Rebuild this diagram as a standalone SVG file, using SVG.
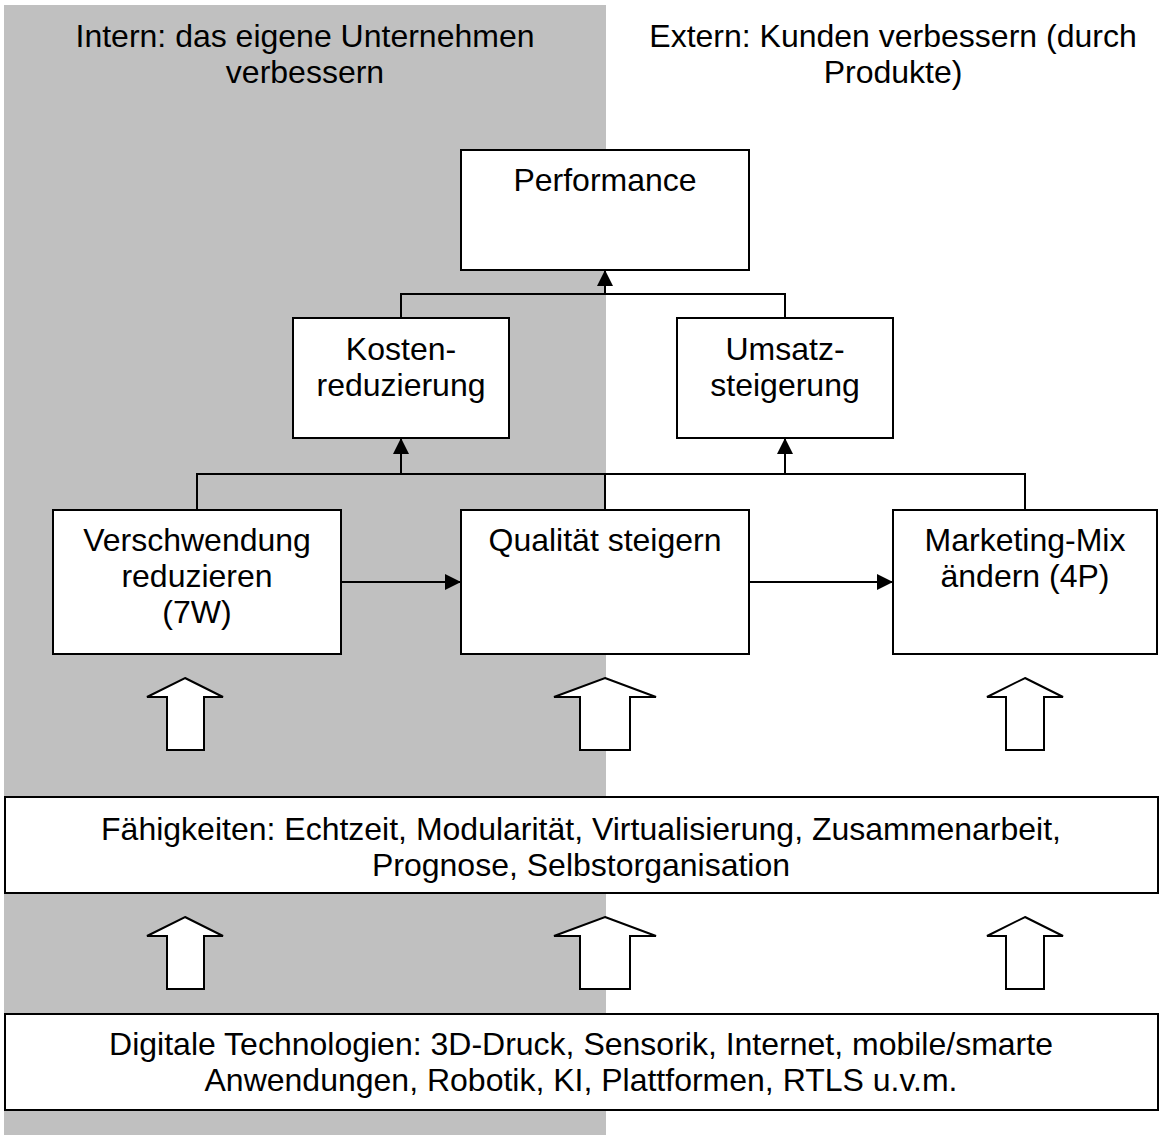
<svg xmlns="http://www.w3.org/2000/svg" width="1167" height="1140" viewBox="0 0 1167 1140">
<defs>
<style>
.box{fill:#fff;stroke:#000;stroke-width:2}
.conn{fill:none;stroke:#000;stroke-width:2}
.big{fill:#fff;stroke:#000;stroke-width:2;stroke-linejoin:miter}
text{font-family:"Liberation Sans",Arial,sans-serif;font-size:32px;fill:#000;text-anchor:middle}
</style>
<marker id="ah" markerUnits="userSpaceOnUse" markerWidth="16" markerHeight="16" viewBox="0 0 16 16" refX="15" refY="8" orient="auto">
<path d="M0,0 L16,8 L0,16 Z" fill="#000"/>
</marker>
</defs>
<rect x="0" y="0" width="1167" height="1140" fill="#fff"/>
<rect id="intern-bg" x="4" y="5" width="602" height="1130" fill="#c0c0c0"/>
<g id="label-intern">
<text x="305" y="47">Intern: das eigene Unternehmen</text>
<text x="305" y="83">verbessern</text>
</g>
<g id="label-extern">
<text x="893" y="47">Extern: Kunden verbessern (durch</text>
<text x="893" y="83">Produkte)</text>
</g>
<g id="connectors">
<path class="conn" d="M401,318 V294 H785 V318"/>
<path class="conn" d="M605,294 V271" marker-end="url(#ah)"/>
<path class="conn" d="M197,510 V474 H1025 V510"/>
<path class="conn" d="M605,510 V474"/>
<path class="conn" d="M401,474 V439" marker-end="url(#ah)"/>
<path class="conn" d="M785,474 V439" marker-end="url(#ah)"/>
<path class="conn" d="M341,582 H460" marker-end="url(#ah)"/>
<path class="conn" d="M749,582 H892" marker-end="url(#ah)"/>
<polygon class="big" points="185,678 223,697 204,697 204,750 167,750 167,697 147,697"/>
<polygon class="big" points="605,678 656,697 630,697 630,750 580,750 580,697 554,697"/>
<polygon class="big" points="1025,678 1063,697 1044,697 1044,750 1006,750 1006,697 987,697"/>
<polygon class="big" points="185,917 223,936 204,936 204,989 167,989 167,936 147,936"/>
<polygon class="big" points="605,917 656,936 630,936 630,989 580,989 580,936 554,936"/>
<polygon class="big" points="1025,917 1063,936 1044,936 1044,989 1006,989 1006,936 987,936"/>
</g>
<g id="performance">
<rect class="box" x="461" y="150" width="288" height="120"/>
<text x="605" y="191">Performance</text>
</g>
<g id="kosten">
<rect class="box" x="293" y="318" width="216" height="120"/>
<text x="401" y="360">Kosten-</text>
<text x="401" y="396">reduzierung</text>
</g>
<g id="umsatz">
<rect class="box" x="677" y="318" width="216" height="120"/>
<text x="785" y="360">Umsatz-</text>
<text x="785" y="396">steigerung</text>
</g>
<g id="verschwendung">
<rect class="box" x="53" y="510" width="288" height="144"/>
<text x="197" y="551">Verschwendung</text>
<text x="197" y="587">reduzieren</text>
<text x="197" y="623">(7W)</text>
</g>
<g id="qualitaet">
<rect class="box" x="461" y="510" width="288" height="144"/>
<text x="605" y="551">Qualität steigern</text>
</g>
<g id="marketing">
<rect class="box" x="893" y="510" width="264" height="144"/>
<text x="1025" y="551">Marketing-Mix</text>
<text x="1025" y="587">ändern (4P)</text>
</g>
<g id="faehigkeiten">
<rect class="box" x="5" y="797" width="1153" height="96"/>
<text x="581" y="840">Fähigkeiten: Echtzeit, Modularität, Virtualisierung, Zusammenarbeit,</text>
<text x="581" y="876">Prognose, Selbstorganisation</text>
</g>
<g id="technologien">
<rect class="box" x="5" y="1014" width="1153" height="96"/>
<text x="581" y="1055">Digitale Technologien: 3D-Druck, Sensorik, Internet, mobile/smarte</text>
<text x="581" y="1091">Anwendungen, Robotik, KI, Plattformen, RTLS u.v.m.</text>
</g>
</svg>
